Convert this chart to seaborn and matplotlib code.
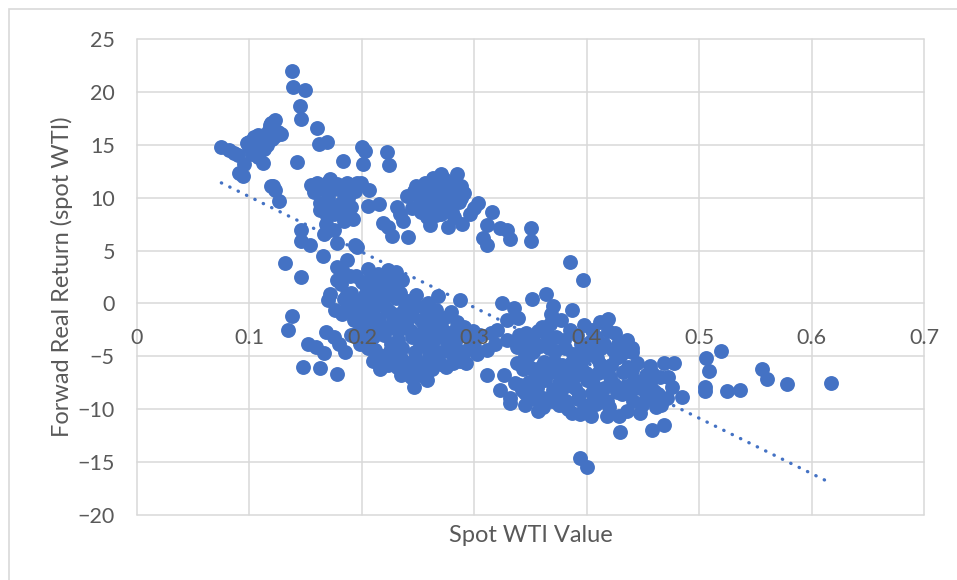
import numpy as np
import pandas as pd
import seaborn as sns
import matplotlib
matplotlib.use("Agg")
import matplotlib.pyplot as plt
from matplotlib.patches import Rectangle

# Puntos, agrupados por zona
izq_x = [0.075, 0.082, 0.086, 0.090, 0.091, 0.094, 0.098, 0.100, 0.104, 0.106, 0.108, 0.110,
         0.112, 0.113, 0.115, 0.118, 0.119, 0.120, 0.123, 0.123, 0.125, 0.128, 0.095, 0.102,
         0.116, 0.121, 0.119, 0.126, 0.123, 0.105, 0.109, 0.113, 0.117, 0.121, 0.100, 0.108]
izq_y = [14.8, 14.5, 14.2, 14.0, 12.3, 12.0, 15.2, 14.8, 15.7, 15.3, 15.9, 14.6,
         13.3, 14.6, 15.8, 16.9, 17.1, 15.5, 17.3, 15.8, 16.2, 16.0, 13.2, 14.1,
         15.0, 11.1, 11.1, 9.7, 10.7, 14.4, 15.6, 15.9, 16.4, 16.6, 15.3, 13.8]

alto_x = [0.138, 0.139, 0.149, 0.145, 0.146, 0.160, 0.162, 0.169, 0.142, 0.183, 0.200, 0.201,
          0.203, 0.222, 0.224]
alto_y = [22.0, 20.5, 20.2, 18.7, 17.4, 16.6, 15.1, 15.3, 13.4, 13.5, 14.8, 13.2,
          14.4, 14.3, 13.1]

medio_x = [0.160, 0.157, 0.172, 0.175, 0.187, 0.196, 0.163, 0.181, 0.190, 0.199, 0.206, 0.205,
           0.215, 0.166, 0.175, 0.178, 0.163, 0.175, 0.184, 0.146, 0.146, 0.154, 0.165, 0.132,
           0.146, 0.194, 0.196, 0.170, 0.155, 0.185, 0.178, 0.168, 0.192,
           0.165, 0.170, 0.178, 0.182, 0.188, 0.194, 0.173, 0.169, 0.186]
medio_y = [11.4, 10.5, 11.8, 10.8, 11.4, 11.4, 9.5, 9.5, 9.1, 11.4, 10.7, 9.2,
           9.4, 6.6, 6.9, 5.7, 8.8, 8.5, 7.8, 6.9, 5.9, 5.5, 4.5, 3.8,
           2.5, 5.5, 5.3, 10.0, 11.2, 10.2, 9.0, 7.5, 8.0,
           10.8, 11.5, 11.3, 10.6, 10.0, 10.6, 9.0, 8.3, 8.8]

sup_x = [0.219, 0.223, 0.227, 0.241, 0.231, 0.234, 0.240, 0.248, 0.252, 0.258, 0.263, 0.267,
         0.270, 0.264, 0.270, 0.261, 0.277, 0.274, 0.279, 0.285, 0.288, 0.288, 0.289, 0.296,
         0.303, 0.316, 0.311, 0.323, 0.329, 0.332, 0.308, 0.311, 0.350, 0.350, 0.255, 0.275,
         0.282, 0.245, 0.262, 0.300, 0.237, 0.272, 0.258,
         0.250, 0.256, 0.260, 0.265, 0.268, 0.273, 0.276, 0.280, 0.283, 0.286, 0.291, 0.246,
         0.253, 0.266, 0.280]
sup_y = [7.6, 7.2, 6.4, 6.3, 9.1, 8.5, 10.2, 11.1, 10.7, 10.0, 11.9, 10.7,
         12.2, 9.1, 8.5, 7.4, 7.2, 10.9, 9.7, 12.2, 11.1, 10.0, 7.5, 8.5,
         9.5, 8.6, 7.4, 7.1, 6.9, 6.1, 6.2, 5.5, 7.1, 5.9, 9.5, 11.5,
         8.2, 9.0, 10.5, 9.0, 7.8, 9.8, 8.2,
         10.2, 11.4, 9.4, 11.4, 10.0, 11.8, 9.2, 10.6, 11.6, 9.6, 10.4, 10.6,
         8.6, 8.4, 8.6]

bloqueA_x = [0.205, 0.214, 0.223, 0.230, 0.236, 0.228, 0.212, 0.200, 0.190, 0.187, 0.187, 0.193,
             0.178, 0.187, 0.178, 0.172, 0.170, 0.198, 0.205, 0.215, 0.222, 0.230, 0.238, 0.245,
             0.248, 0.268, 0.287, 0.279, 0.285, 0.265, 0.267, 0.255, 0.240, 0.228, 0.215, 0.200,
             0.210, 0.220, 0.232, 0.245, 0.252, 0.262, 0.275, 0.285, 0.295, 0.292, 0.280, 0.270,
             0.287, 0.260, 0.250, 0.240, 0.246, 0.252, 0.235, 0.225, 0.218, 0.210, 0.205, 0.198,
             0.202, 0.213, 0.220, 0.207, 0.195, 0.233, 0.258, 0.243, 0.272, 0.262, 0.275, 0.231,
             0.258, 0.226, 0.203,
             0.138, 0.134, 0.152, 0.148, 0.163, 0.178, 0.168, 0.175, 0.166, 0.185, 0.159, 0.180,
             0.190,
             0.195, 0.203, 0.208, 0.210, 0.217, 0.219, 0.221, 0.225, 0.226, 0.229, 0.232, 0.234,
             0.236, 0.238, 0.241, 0.242, 0.244, 0.247, 0.249, 0.251, 0.253, 0.256, 0.257, 0.259,
             0.261, 0.263, 0.266, 0.268, 0.270, 0.273, 0.276, 0.278, 0.281, 0.283, 0.284, 0.289,
             0.291, 0.293, 0.297, 0.299, 0.302, 0.212, 0.216, 0.223, 0.244, 0.235, 0.229, 0.205,
             0.196, 0.199, 0.204, 0.211, 0.250, 0.265,
             0.181, 0.184, 0.189, 0.192, 0.182, 0.176, 0.183]
bloqueA_y = [3.3, 2.8, 3.2, 3.0, 2.2, 1.5, 1.2, 2.0, 1.0, 0.9, -0.4, -1.6,
             3.4, 4.1, 2.2, 0.9, 0.3, 0.2, -0.8, 0.3, -0.5, 0.5, -0.3, -1.2,
             0.75, 0.7, 0.3, -0.8, -1.8, -1.6, -2.7, -2.0, -2.2, -1.8, -1.5, -2.5,
             -3.2, -3.0, -3.5, -3.2, -4.0, -3.8, -3.5, -3.0, -3.2, -4.5, -4.8, -5.7,
             -5.4, -5.0, -5.5, -6.6, -7.9, -6.8, -5.2, -4.5, -5.0, -5.4, -4.2, -3.8,
             -1.0, -0.2, 1.8, 2.3, -0.8, -1.0, -1.0, -0.5, -2.5, -6.2, -6.0, -6.0,
             -7.2, -2.2, 0.8,
             -1.2, -2.5, -3.8, -6.0, -6.1, -6.7, -2.7, -3.2, -4.7, -4.6, -4.1, -3.8,
             -3.0,
             2.6, -2.0, 0.0, -1.2, 2.2, -2.2, 0.6, -0.8, -3.8, 2.4, -2.6, 1.0,
             -4.2, -1.6, 0.2, -5.6, -2.6, -4.6, -0.2, -3.0, -1.6, -5.8, -3.4, 0.0,
             -2.2, -4.4, -0.6, -3.2, -4.6, -1.4, -2.8, -4.2, -5.6, -3.6, -2.4, -4.8,
             -2.2, -5.6, -3.9, -2.6, -4.8, -4.4, -6.2, -5.8, -7.0, -6.8, -5.0, -2.9,
             -2.8, -1.2, 1.6, -2.4, -6.2, -5.3,
             1.8, 0.4, 2.6, 0.2, -1.0, -0.6, 3.0]

enlace_x = [0.325, 0.335, 0.329, 0.339, 0.320, 0.329, 0.338, 0.311, 0.311, 0.326, 0.323, 0.336,
            0.332, 0.332, 0.305, 0.315, 0.300, 0.346, 0.345, 0.318]
enlace_y = [0.0, -0.4, -1.6, -1.4, -2.5, -3.5, -4.1, -4.4, -6.8, -6.8, -8.2, -7.5,
            -8.9, -9.4, -3.0, -2.8, -4.0, -2.8, -5.0, -3.8]

bloqueB_x = [0.351, 0.364, 0.370, 0.387, 0.385, 0.397, 0.412, 0.419, 0.367, 0.440,
             0.350, 0.341, 0.361, 0.382, 0.361, 0.375, 0.387, 0.394, 0.398, 0.394, 0.400, 0.429,
             0.430, 0.458, 0.469, 0.447, 0.462, 0.440, 0.440, 0.456, 0.469, 0.453, 0.456, 0.476,
             0.471, 0.453, 0.441, 0.427, 0.421, 0.412, 0.423,
             0.350, 0.358, 0.365, 0.372, 0.380, 0.388, 0.395, 0.402, 0.408, 0.415, 0.425, 0.430,
             0.348, 0.355, 0.362, 0.368, 0.375, 0.378, 0.385, 0.390, 0.395, 0.400, 0.405, 0.410,
             0.415, 0.418, 0.422, 0.432, 0.435, 0.370, 0.382, 0.392, 0.408, 0.345, 0.356, 0.398,
             0.385, 0.360, 0.405, 0.436, 0.447, 0.465, 0.460, 0.478, 0.485,
             0.340, 0.343, 0.347, 0.349, 0.352, 0.354, 0.357, 0.359, 0.363, 0.366, 0.369, 0.371,
             0.373, 0.376, 0.379, 0.381, 0.383, 0.386, 0.389, 0.391, 0.393, 0.396, 0.399, 0.401,
             0.403, 0.406, 0.409, 0.411, 0.413, 0.416, 0.419, 0.420, 0.424, 0.426, 0.428, 0.431,
             0.433, 0.437, 0.439, 0.442, 0.445, 0.449, 0.451, 0.455, 0.458, 0.463, 0.466, 0.472,
             0.368, 0.377, 0.398, 0.342, 0.338, 0.345, 0.357, 0.379, 0.404, 0.418, 0.436]
bloqueB_y = [0.4, 0.85, -0.2, -0.6, 3.9, 2.2, -1.8, -1.5, -1.9, -4.2,
             -6.1, -7.7, -8.9, -9.2, -9.8, -9.6, -10.4, -10.5, -9.9, -14.6, -15.5, -10.6,
             -12.2, -12.0, -11.5, -10.4, -9.8, -4.6, -6.3, -5.9, -5.6, -6.8, -7.5, -7.9,
             -8.9, -8.9, -9.2, -8.4, -7.0, -5.7, -4.4,
             -3.2, -4.0, -3.0, -4.5, -3.5, -4.8, -3.8, -4.5, -3.2, -3.8, -2.8, -5.0,
             -5.0, -7.0, -5.5, -6.5, -7.5, -5.8, -6.8, -8.0, -6.0, -7.2, -8.5, -6.6,
             -8.0, -9.2, -5.8, -6.5, -7.8, -8.2, -7.8, -9.0, -9.5, -8.5, -8.0, -5.2,
             -2.5, -2.2, -2.5, -3.5, -8.0, -7.0, -8.3, -5.6, -8.8,
             -3.0, -6.2, -3.8, -7.4, -4.6, -9.0, -2.6, -6.0, -7.2, -4.2, -9.2, -5.4,
             -3.2, -8.6, -6.6, -4.2, -10.0, -5.6, -7.0, -3.0, -8.6, -4.8, -6.6, -9.6,
             -3.6, -7.6, -5.2, -8.6, -4.2, -6.2, -2.6, -9.8, -7.6, -5.2, -3.8, -8.6,
             -4.6, -6.0, -8.2, -7.2, -5.6, -9.6, -7.8, -9.0, -6.6, -8.6, -9.6, -7.0,
             -1.0, -1.6, -2.0, -8.2, -5.6, -9.6, -10.2, -9.6, -10.6, -10.6, -10.2]

der_x = [0.506, 0.519, 0.509, 0.505, 0.505, 0.525, 0.536, 0.556, 0.560, 0.578, 0.617]
der_y = [-5.2, -4.5, -6.4, -7.9, -8.3, -8.3, -8.2, -6.2, -7.1, -7.6, -7.5]

x_ticks = [0, 0.1, 0.2, 0.3, 0.4, 0.5, 0.6, 0.7]
x_labels = ["0", "0.1", "0.2", "0.3", "0.4", "0.5", "0.6", "0.7"]
y_ticks = [-20, -15, -10, -5, 0, 5, 10, 15, 20, 25]

datos = pd.DataFrame({
    "spot": izq_x + alto_x + medio_x + sup_x + bloqueA_x + enlace_x + bloqueB_x + der_x,
    "ret": izq_y + alto_y + medio_y + sup_y + bloqueA_y + enlace_y + bloqueB_y + der_y,
})

azul = "#4472C4"
gris = "#D9D9D9"
texto = "#595959"

sns.set_theme(style="white")
plt.rcParams["font.family"] = ["Lato", "DejaVu Sans"]

fig = plt.figure(figsize=(9.57, 5.8), dpi=100)
ax = fig.add_axes([0.1432, 0.1121, 0.8223, 0.8207])

# lineas de cuadricula por debajo de los puntos
for xt in x_ticks:
    ax.axvline(xt, color=gris, lw=1.1, zorder=0, clip_on=False)
for yt in y_ticks:
    ax.axhline(yt, color=gris, lw=1.1, zorder=0, clip_on=False)

sns.scatterplot(data=datos, x="spot", y="ret", ax=ax, color=azul, s=115,
                linewidth=0, alpha=1, zorder=1)
sns.regplot(data=datos, x="spot", y="ret", ax=ax, scatter=False, ci=None, truncate=True,
            line_kws=dict(color=azul, lw=2.4, linestyle=(0, (0.1, 2.7)),
                          dash_capstyle="round", zorder=4))

ax.set_xlim(0, 0.7)
ax.set_ylim(-20, 25)
ax.set_xticks(x_ticks)
ax.set_xticklabels(x_labels)
ax.set_yticks(y_ticks)
ax.grid(False)
ax.set_axisbelow(False)

for lado in ["left", "right", "top", "bottom"]:
    ax.spines[lado].set_visible(False)
ax.spines["bottom"].set_position(("data", 0))

ax.tick_params(axis="x", length=0, pad=17.5, labelsize=15.5, labelcolor=texto)
ax.tick_params(axis="y", length=0, pad=16, labelsize=15.5, labelcolor=texto)

ax.set_xlabel("Spot WTI Value", fontsize=17, color=texto)
ax.set_ylabel("Forwad Real Return (spot WTI)", fontsize=17, color=texto)
ax.xaxis.set_label_coords(0.5, -0.02)
ax.yaxis.set_label_coords(-0.082, 0.5)

borde = Rectangle((9 / 957, -0.1), 1.2, 1.1 - 9 / 580, transform=fig.transFigure,
                  fill=False, edgecolor=gris, lw=1.2)
fig.add_artist(borde)

plt.savefig("out.png", dpi=100)
